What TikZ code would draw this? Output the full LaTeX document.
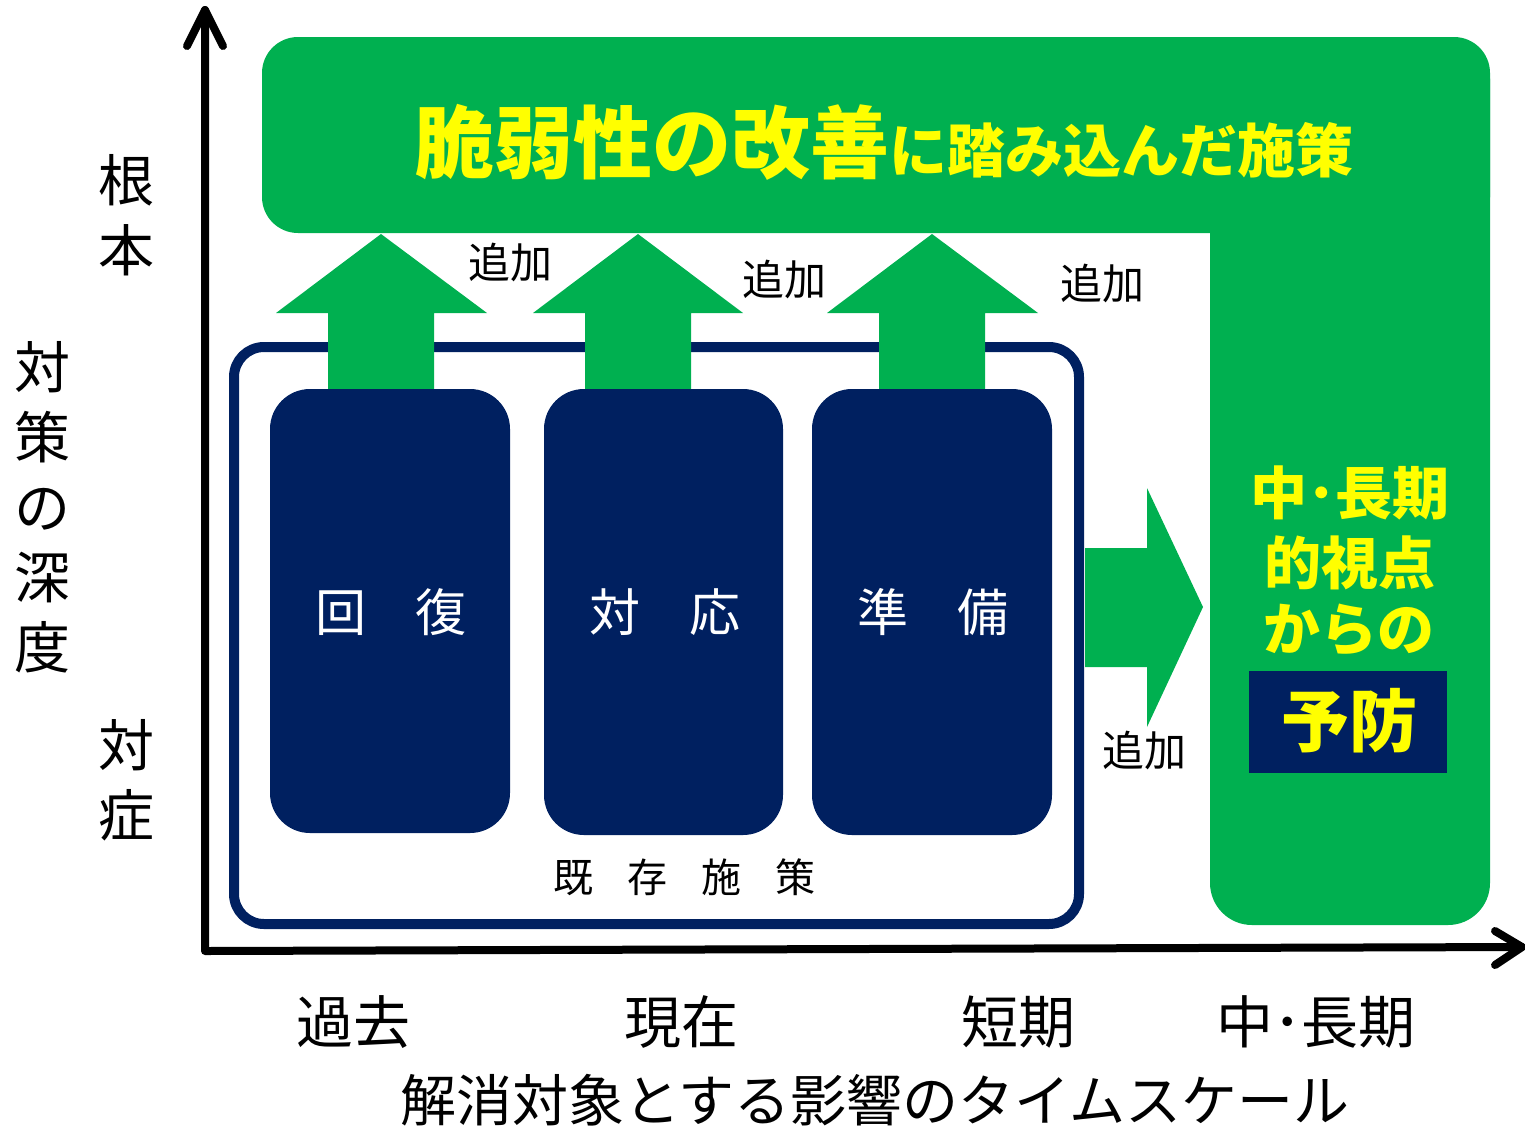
\documentclass[tikz,border=0pt]{standalone}
\usepackage{fontspec}
\newfontfamily\jp{Noto Sans CJK JP}
\definecolor{gr}{HTML}{00B050}
\definecolor{nv}{HTML}{002060}
\definecolor{yl}{HTML}{FFFF00}
\begin{document}
\begin{tikzpicture}[x=1pt,y=-1pt,
  txt/.style={inner sep=0pt,font=\jp},
  fs/.style={font=\jp\fontsize{#1}{#1}\selectfont},
  fsb/.style={font=\jp\bfseries\fontsize{#1}{#1}\selectfont},
  add/.style={txt,fs=42,text=black},
  ax/.style={txt,fs=56,text=black,align=center},
  bot/.style={txt,fs=57,text=black},
  ylw/.style={txt,fsb=57,text=yl},
  blk/.style={fill=nv,rounded corners=40pt},
  grarrow/.style={fill=gr},
  axis/.style={line width=8pt,line cap=round,line join=round,draw=black}]
\useasboundingbox (0,0) rectangle (1525,1128);
% green L-shape
\fill[gr,rounded corners=36pt] (262,37) rectangle (1490,233);
\fill[gr,rounded corners=42pt] (1210,37) rectangle (1490,925);
\node[txt,text=yl,font=\jp\bfseries] (title) at (884,142)
  {{\fontsize{79}{79}\selectfont 脆弱性の改善}{\fontsize{58}{58}\selectfont に踏み込んだ施策}};
% existing measures box
\draw[nv,line width=10pt,rounded corners=30pt] (234,347) rectangle (1079,924);
\node[txt,fs=40] (exist) at (684,877) {既\hspace{34pt}存\hspace{34pt}施\hspace{34pt}策};
% up arrows
\fill[grarrow] (328,389) -- (328,313) -- (276,313) -- (381,234) -- (487,313) -- (434,313) -- (434,389) -- cycle;
\fill[grarrow] (585,389) -- (585,313) -- (533,313) -- (638,234) -- (743,313) -- (691,313) -- (691,389) -- cycle;
\fill[grarrow] (879,389) -- (879,313) -- (827,313) -- (932,234) -- (1038,313) -- (985,313) -- (985,389) -- cycle;
% right arrow
\fill[grarrow] (1085,548) -- (1147,548) -- (1147,488) -- (1203,607) -- (1147,727) -- (1147,667) -- (1085,667) -- cycle;
% three blocks
\fill[blk] (270,389) rectangle (510,833);
\fill[blk] (544,389) rectangle (783,835);
\fill[blk] (812,389) rectangle (1052,835);
\node[txt,fs=51,text=white] (kaifuku) at (391,612) {回\hspace{49pt}復};
\node[txt,fs=51,text=white] (taiou) at (665,612) {対\hspace{49pt}応};
\node[txt,fs=51,text=white] (junbi) at (933,612) {準\hspace{49pt}備};
% add labels
\node[add] (a1) at (510,262) {追加};
\node[add] (a2) at (784,279) {追加};
\node[add] (a3) at (1102,283) {追加};
\node[add] (a4) at (1144,750) {追加};
% right column text
\node[ylw] (r1) at (1350,493) {中･長期};
\node[ylw] (r2) at (1350,563) {的視点};
\node[ylw] (r3) at (1349,630) {からの};
\node[fill=nv,minimum width=198pt,minimum height=102pt,inner sep=0pt] (yobobox) at (1348,722) {};
\node[txt,fsb=68,text=yl] (yobo) at (1349,721) {予防};
% axes
\coordinate (O) at (205,951);
\coordinate (ytip) at (205,10);
\coordinate (xtip) at (1522,947);
\draw[axis] (ytip) -- (O) -- (xtip);
\draw[axis] (187,46) -- (ytip) -- (223,46);
\draw[axis] (1495,931) -- (xtip) -- (1495,965);
% axis labels
\node[ax] (konpon) at (126,215) {根\\[14pt]本};
\node[ax] (depth) at (42,507) {対\\[14pt]策\\[14pt]の\\[14pt]深\\[14pt]度};
\node[ax] (taisho) at (126,780) {対\\[14pt]症};
\node[bot] (kako) at (353,1022) {過去};
\node[bot] (genzai) at (681,1022) {現在};
\node[bot] (tanki) at (1018,1022) {短期};
\node[bot] (chucho) at (1316,1022) {中･長期};
\node[txt,fs=56] (scale) at (875,1100) {解消対象とする影響のタイムスケール};
\end{tikzpicture}
\end{document}
